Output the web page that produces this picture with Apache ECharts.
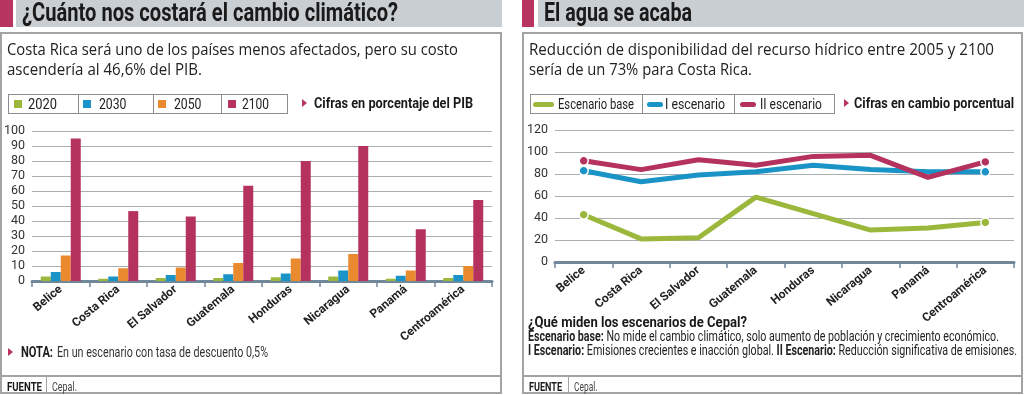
<!DOCTYPE html>
<html>
<head>
<meta charset="utf-8">
<script src="https://cdn.jsdelivr.net/npm/echarts@6/dist/echarts.min.js"></script>
<style>
html,body{margin:0;padding:0;background:#fff;}
body{width:1024px;height:395px;position:relative;overflow:hidden;}
.abs{position:absolute;box-sizing:border-box;}
.t{position:absolute;white-space:nowrap;line-height:1;transform-origin:0 0;z-index:3;}
#chart{position:absolute;left:0;top:0;width:1024px;height:395px;z-index:2;}
</style>
</head>
<body>
<div id="chart"></div>
<script>
// ---------- DATA ----------
const categories = ['Belice','Costa Rica','El Salvador','Guatemala','Honduras','Nicaragua','Panamá','Centroamérica'];
// Left chart: cost as % of GDP
const pibYears = ['2020','2030','2050','2100'];
const pib2020 = [3, 1.5, 2, 2, 2.5, 3, 1.5, 2];
const pib2030 = [6, 3, 4, 4.5, 5, 7, 3.5, 4];
const pib2050 = [17, 8.5, 9, 12, 15, 18, 7, 10];
const pib2100 = [95, 46.6, 43, 63.5, 80, 90, 34.5, 54];
// Right chart: water availability change
const aguaNames = ['Escenario base','I escenario','II escenario'];
const aguaBase = [43, 21, 22, 59, 44, 29, 31, 36];
const aguaI = [83, 73, 79, 82, 88, 84, 82, 82];
const aguaII = [92, 84, 93, 88, 96, 97, 77, 91];
// Axis ticks
const pibAxis = {min: 0, max: 100, interval: 10};
const aguaAxis = {min: 0, max: 120, interval: 20};

// ---------- STYLE ----------
const GREEN = '#9cb83c', BLUE = '#1a94c7', ORANGE = '#ea8a2f', MAGENTA = '#b5325f';
const AXIS = '#71879a', GRID = '#a9aeb3', PINK = '#b83562', BAR = '#c9ced3', BORDER = '#a3a3a3';

function hasFont(f) {
  const c = document.createElement('canvas').getContext('2d');
  c.font = 'bold 20px monospace';
  const a = c.measureText('Centroamérica').width;
  c.font = "bold 20px '" + f + "', monospace";
  return c.measureText('Centroamérica').width !== a;
}
const narrow = hasFont('Liberation Sans Narrow');
const labelFont = narrow ? {ff: "'Liberation Sans Narrow', Roboto", fs: 14} : {ff: 'Roboto', fs: 12};

function box(x, y, w, h, css) {
  const d = document.createElement('div');
  d.className = 'abs';
  d.style.left = x + 'px'; d.style.top = y + 'px';
  d.style.width = w + 'px'; d.style.height = h + 'px';
  Object.assign(d.style, css || {});
  document.body.appendChild(d);
  return d;
}
function T(html, x, base, fs, w, o) {
  o = o || {};
  const d = document.createElement('div');
  d.className = 't';
  d.innerHTML = html;
  const ff = o.ff || 'Roboto';
  d.style.fontFamily = ff;
  d.style.fontSize = fs + 'px';
  d.style.fontWeight = o.fw || 'normal';
  d.style.color = o.c || '#1c1c1c';
  d.style.left = x + 'px';
  const k = ff === 'Open Sans' ? 0.888 : 0.842;
  d.style.top = (base - k * fs) + 'px';
  document.body.appendChild(d);
  if (w) {
    const nw = d.getBoundingClientRect().width;
    d.style.transform = 'scaleX(' + (w / nw) + ')';
  }
  return d;
}
function tri(x, y) {
  return box(x, y, 0, 0, {borderLeft: '5px solid ' + PINK, borderTop: '4px solid transparent', borderBottom: '4px solid transparent', zIndex: 3});
}

// ---------- CHROME: left panel ----------
box(0, 0, 13, 27, {background: PINK});
box(16, 0, 486, 27, {background: BAR});
box(0, 32, 502, 362, {border: '2px solid ' + BORDER});
box(0, 375, 502, 2, {background: BORDER});
box(46, 377, 1, 16, {background: BORDER});
T('¿Cuánto nos costará el cambio climático?', 22, 21, 25, 376, {fw: 'bold', c: '#1a1a1a'});
T('Costa Rica será uno de los países menos afectados, pero su costo', 7, 55, 17, 451, {ff: 'Open Sans', c: '#222'});
T('ascendería al 46,6% del PIB.', 7, 75, 17, 195, {ff: 'Open Sans', c: '#222'});
// legend box
box(8, 94, 280, 20, {border: '1px solid #8e8e8e', background: '#fff'});
const legL = [[14, 28, 29], [83, 99, 27.5], [158, 174, 27.5], [228, 242, 27]];
[78, 153, 221].forEach(x => box(x, 94, 1, 20, {background: '#8e8e8e'}));
const pibColors = [GREEN, BLUE, ORANGE, MAGENTA];
pibYears.forEach((y, i) => {
  box(legL[i][0], 99.5, 8, 8, {background: pibColors[i]});
  T(y, legL[i][1], 108.5, 14, legL[i][2], {c: '#222'});
});
tri(302, 99);
T('Cifras en porcentaje del PIB', 314, 108.5, 15, 159, {fw: 'bold', c: '#1a1a1a'});
// note
tri(8, 348);
T('NOTA:', 21, 357, 14, 32, {fw: 'bold', c: '#1a1a1a'});
T('En un escenario con tasa de descuento 0,5%', 57, 357, 14, 211, {c: '#333'});
T('FUENTE', 7, 390.5, 13, 35, {fw: 'bold', c: '#1a1a1a'});
T('Cepal.', 52, 390.5, 13, 25, {c: '#444'});

// ---------- CHROME: right panel ----------
box(522, 0, 12, 27, {background: PINK});
box(538, 0, 486, 27, {background: BAR});
box(522, 32, 501, 362, {border: '2px solid ' + BORDER});
box(522, 375, 501, 2, {background: BORDER});
box(568, 377, 1, 16, {background: BORDER});
T('El agua se acaba', 544, 21, 25, 148, {fw: 'bold', c: '#1a1a1a'});
T('Reducción de disponibilidad del recurso hídrico entre 2005 y 2100', 529, 55, 17, 465, {ff: 'Open Sans', c: '#222'});
T('sería de un 73% para Costa Rica.', 529, 75, 17, 223, {ff: 'Open Sans', c: '#222'});
box(530, 94, 305, 20, {border: '1px solid #8e8e8e', background: '#fff'});
[642, 734].forEach(x => box(x, 94, 1, 20, {background: '#8e8e8e'}));
const aguaColors = [GREEN, BLUE, MAGENTA];
const legR = [[533, 21, 558, 76], [647, 16, 665, 60], [740, 16, 760, 62]];
aguaNames.forEach((n, i) => {
  box(legR[i][0], 101.5, legR[i][1], 5, {background: aguaColors[i], borderRadius: '3px'});
  T(n, legR[i][2], 108.5, 14, legR[i][3], {c: '#222'});
});
tri(844, 99);
T('Cifras en cambio porcentual', 854, 108.5, 15, 160, {fw: 'bold', c: '#1a1a1a'});
T('¿Qué miden los escenarios de Cepal?', 528, 328.5, 14.5, 219, {fw: 'bold', c: '#1a1a1a'});
T('<b>Escenario base:</b> No mide el cambio climático, solo aumento de población y crecimiento económico.', 528, 342.5, 14.5, 471, {c: '#222'});
T('<b>I Escenario:</b> Emisiones crecientes e inacción global. <b>II Escenario:</b> Reducción significativa de emisiones.', 528, 356.5, 14.5, 489, {c: '#222'});
T('FUENTE', 529, 390.5, 13, 33, {fw: 'bold', c: '#1a1a1a'});
T('Cepal.', 574, 390.5, 13, 23.5, {c: '#444'});

// ---------- CHART ----------
const chart = echarts.init(document.getElementById('chart'), null, {renderer: 'canvas'});
const xCommon = {
  type: 'category',
  data: categories,
  axisLine: {lineStyle: {color: AXIS, width: 3}},
  axisTick: {show: true, length: 6, lineStyle: {color: AXIS, width: 1.5}},
  axisLabel: {rotate: 40, fontWeight: 'bold', fontSize: labelFont.fs, color: '#222', margin: 7, fontFamily: labelFont.ff}
};
const yCommon = {
  type: 'value',
  axisLine: {show: false},
  axisTick: {show: false},
  axisLabel: {fontSize: 12.5, color: '#333', margin: 7, fontFamily: 'Roboto'},
  splitLine: {lineStyle: {color: GRID, width: 1}}
};
const endSym = (v, p) => (p.dataIndex === 0 || p.dataIndex === categories.length - 1) ? 9 : 0;
function lineSeries(name, data, color) {
  return {
    name, type: 'line', data, xAxisIndex: 1, yAxisIndex: 1,
    symbol: 'circle', symbolSize: endSym, showSymbol: true,
    lineStyle: {color, width: 5},
    itemStyle: {color, borderColor: '#fff', borderWidth: 1.5},
    emphasis: {disabled: true}
  };
}
const pibData = [pib2020, pib2030, pib2050, pib2100];
chart.setOption({
  animation: false,
  grid: [
    {left: 32, top: 131, width: 460, height: 150},
    {left: 555, top: 130, width: 459, height: 132}
  ],
  xAxis: [
    Object.assign({gridIndex: 0}, xCommon),
    Object.assign({gridIndex: 1}, xCommon)
  ],
  yAxis: [
    Object.assign({gridIndex: 0}, yCommon, pibAxis),
    Object.assign({gridIndex: 1}, yCommon, aguaAxis)
  ],
  series: pibYears.map((y, i) => ({
    name: y, type: 'bar', data: pibData[i], xAxisIndex: 0, yAxisIndex: 0,
    barWidth: 10, barGap: '0%', itemStyle: {color: pibColors[i]}
  })).concat([
    lineSeries(aguaNames[0], aguaBase, GREEN),
    lineSeries(aguaNames[1], aguaI, BLUE),
    lineSeries(aguaNames[2], aguaII, MAGENTA)
  ])
});
</script>
</body>
</html>
